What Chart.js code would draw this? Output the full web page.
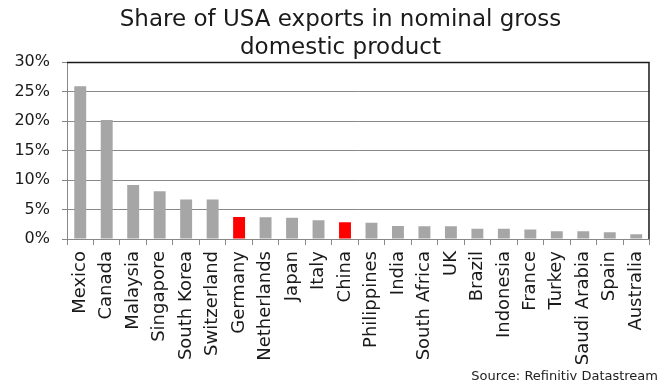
<!DOCTYPE html>
<html>
<head>
<meta charset="utf-8">
<script src="https://cdn.jsdelivr.net/npm/chart.js@4/dist/chart.umd.min.js"></script>
<style>
  body { margin: 0; background: #fff; }
  #wrap { position: relative; width: 664px; height: 385px; }
  #source {
    position: absolute; right: 6px; bottom: 2px;
    font-family: "DejaVu Sans", sans-serif; font-size: 13px; color: #222;
  }
</style>
</head>
<body>
<div id="wrap">
  <canvas id="chart" width="664" height="385"></canvas>
  <div id="source">Source: Refinitiv Datastream</div>
</div>
<script>
var countries = ['Mexico', 'Canada', 'Malaysia', 'Singapore', 'South Korea', 'Switzerland',
  'Germany', 'Netherlands', 'Japan', 'Italy', 'China', 'Philippines', 'India',
  'South Africa', 'UK', 'Brazil', 'Indonesia', 'France', 'Turkey', 'Saudi Arabia',
  'Spain', 'Australia'];
var exportShare = [25.9, 20.2, 9.15, 8.1, 6.7, 6.7, 3.75, 3.7, 3.6, 3.2, 2.85, 2.75, 2.2,
  2.15, 2.15, 1.75, 1.75, 1.6, 1.3, 1.3, 1.15, 0.8];
var highlighted = ['Germany', 'China'];
var yTicks = [0, 5, 10, 15, 20, 25, 30];

var barColors = countries.map(function (c) {
  return highlighted.indexOf(c) >= 0 ? '#ff0000' : '#a6a6a6';
});

// dark top and right edges of the plot box, title nudged right like the original
var frame = {
  id: 'frame',
  afterLayout: function (chart) {
    if (chart.titleBlock) chart.titleBlock.left = 24;
  },
  afterDraw: function (chart) {
    var a = chart.chartArea, ctx = chart.ctx;
    ctx.save();
    ctx.strokeStyle = '#1a1a1a';
    ctx.lineWidth = 1.5;
    ctx.beginPath();
    ctx.moveTo(a.left, a.top + 0.5);
    ctx.lineTo(a.right - 0.5, a.top + 0.5);
    ctx.lineTo(a.right - 0.5, a.bottom);
    ctx.stroke();
    ctx.restore();
  }
};

var font = "'DejaVu Sans', sans-serif";

new Chart(document.getElementById('chart'), {
  type: 'bar',
  data: {
    labels: countries,
    datasets: [{
      data: exportShare,
      backgroundColor: barColors,
      barPercentage: 0.45,
      categoryPercentage: 1
    }]
  },
  options: {
    responsive: false,
    animation: false,
    layout: { padding: { left: 0, right: 7, top: 0, bottom: 0 } },
    plugins: {
      legend: { display: false },
      tooltip: { enabled: false },
      title: {
        display: true,
        text: ['Share of USA exports in nominal gross', 'domestic product'],
        color: '#1a1a1a',
        font: { family: font, size: 23, weight: 'normal', lineHeight: 1.22 },
        padding: { top: 6, bottom: 0 }
      }
    },
    scales: {
      x: {
        grid: { display: true, drawOnChartArea: false, drawTicks: true, tickLength: 6, color: '#888' },
        border: { color: '#888' },
        ticks: {
          color: '#1a1a1a', minRotation: 90, maxRotation: 90, autoSkip: false,
          font: { family: font, size: 18 }, padding: 6
        },
        afterFit: function (s) { s.height = 146; }
      },
      y: {
        min: 0, max: 30,
        afterBuildTicks: function (s) { s.ticks = yTicks.map(function (v) { return { value: v }; }); },
        grid: { color: '#888', tickLength: 5 },
        border: { color: '#888' },
        ticks: {
          color: '#1a1a1a', padding: 12,
          font: { family: font, size: 16 },
          callback: function (v) { return v + '%'; }
        },
        afterFit: function (s) { s.width = 67; }
      }
    }
  },
  plugins: [frame]
});
</script>
</body>
</html>
